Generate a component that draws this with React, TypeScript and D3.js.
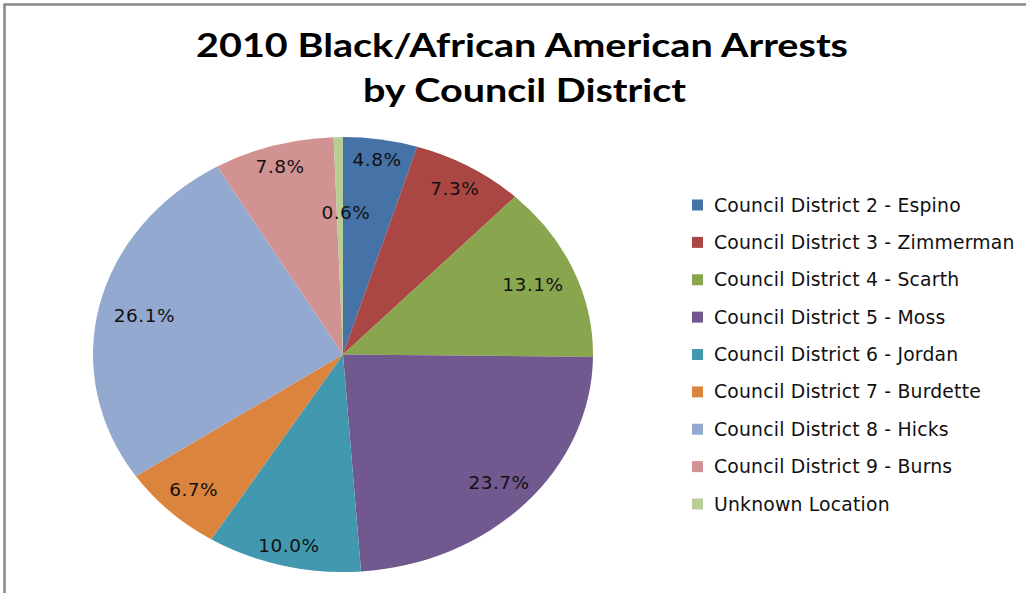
import React from "react";
import * as d3 from "d3";

const titleLines = ["2010 Black/African American Arrests", "by Council District"];
const categories = [
  "Council District 2 - Espino",
  "Council District 3 - Zimmerman",
  "Council District 4 - Scarth",
  "Council District 5 - Moss",
  "Council District 6 - Jordan",
  "Council District 7 - Burdette",
  "Council District 8 - Hicks",
  "Council District 9 - Burns",
  "Unknown Location",
];
const values = [4.8, 7.3, 13.1, 23.7, 10.0, 6.7, 26.1, 7.8, 0.6];
const colors = [
  "#4572A7",
  "#AA4643",
  "#89A54E",
  "#71588F",
  "#4198AF",
  "#DB843D",
  "#93A9CF",
  "#D19392",
  "#B9CD96",
];

const W = 1026;
const H = 593;
const cx = 343;
const cy = 354.5;
const rx = 250;
const ry = 217.5;

export default function App() {
  const pie = d3
    .pie<number>()
    .sort(null)
    .value((d) => d)
    .startAngle(0)
    .endAngle(2 * Math.PI);
  const arcs = pie(values);
  const arc = d3.arc<d3.PieArcDatum<number>>().innerRadius(0).outerRadius(rx);
  const fmt = d3.format(".1f");

  const legendY = d3
    .scalePoint<string>()
    .domain(categories)
    .range([205, 504]);

  return (
    <svg
      width={W}
      height={H}
      style={{ position: "absolute", left: 0, top: 0, background: "#fff" }}
    >
      <path d={`M4.5,${H} V4.5 H${W}`} fill="none" stroke="#888" strokeWidth={2.5} />
      {titleLines.map((t, i) => (
        <text
          key={i}
          x={i === 0 ? 196 : 363}
          y={57 + i * 45}
          fontFamily="Lato, 'Open Sans', sans-serif"
          fontWeight="bold"
          fontSize={33}
          fill="#000"
          textLength={i === 0 ? 652 : 323}
          lengthAdjust="spacingAndGlyphs"
        >
          {t}
        </text>
      ))}
      <g transform={`translate(${cx},${cy}) scale(1,${ry / rx})`}>
        {arcs.map((a, i) => (
          <path key={i} d={arc(a) || ""} fill={colors[i]} />
        ))}
      </g>
      {arcs.map((a, i) => {
        const mid = (a.startAngle + a.endAngle) / 2;
        const ux = Math.sin(mid);
        const uy = -Math.cos(mid);
        const f = a.data < 2 ? 0.655 : 0.91 - 0.1 * ux * ux;
        const x = cx + rx * f * ux + (a.data < 2 ? 6 : 0);
        const y = cy + ry * f * uy;
        return (
          <text
            key={i}
            x={x}
            y={y}
            textAnchor="middle"
            dominantBaseline="central"
            fontFamily="'DejaVu Sans', sans-serif"
            fontSize={18.5}
            letterSpacing={0.5}
            fill="#111"
          >
            {fmt(a.data)}%
          </text>
        );
      })}
      {categories.map((c, i) => {
        const y = legendY(c) as number;
        return (
          <g key={c}>
            <rect x={692} y={y - 5.5} width={11} height={11} fill={colors[i]} />
            <text
              x={714}
              y={y}
              dominantBaseline="central"
              fontFamily="'DejaVu Sans', sans-serif"
              fontSize={18.8}
              letterSpacing={0.2}
              fill="#111"
            >
              {c}
            </text>
          </g>
        );
      })}
    </svg>
  );
}
